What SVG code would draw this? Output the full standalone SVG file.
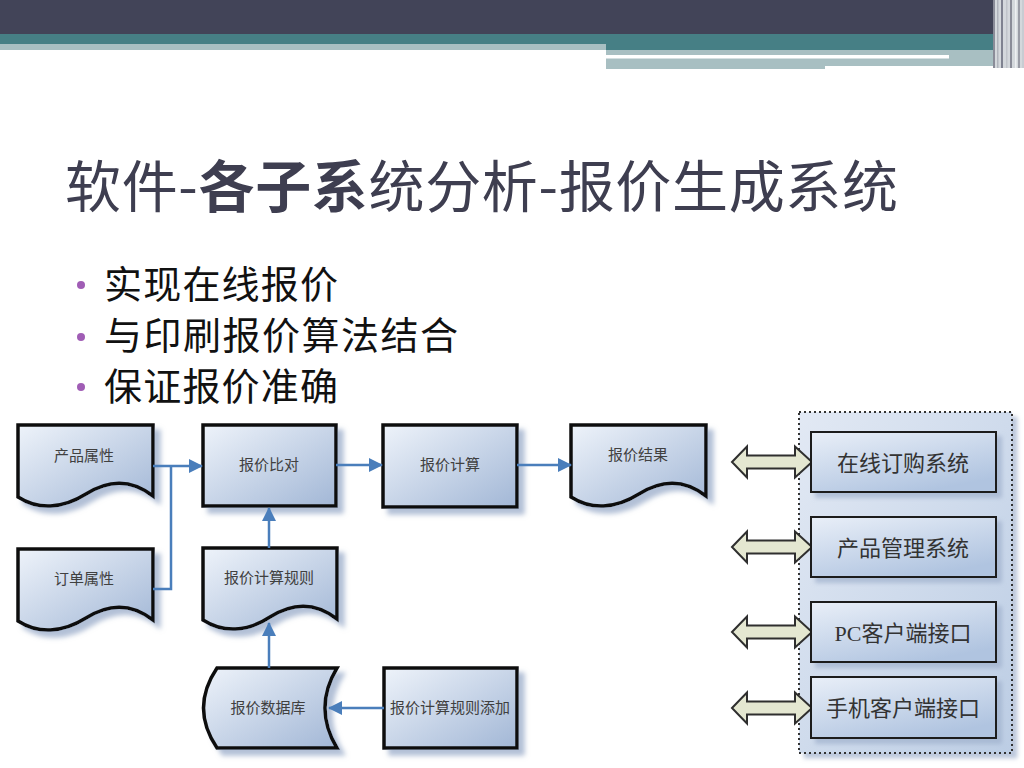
<svg xmlns="http://www.w3.org/2000/svg" width="1024" height="768" viewBox="0 0 1024 768">
<defs>
<style>
.title{font-family:"Noto Sans CJK SC",sans-serif;font-size:56px;fill:#3e3e50}
.bul{font-family:"Noto Sans CJK SC",sans-serif;font-size:38px;fill:#111}
.nt{font-family:"Noto Sans CJK SC",sans-serif;font-size:15px;fill:#404040;text-anchor:middle}
.rt{font-family:"Liberation Serif","Noto Sans CJK SC",serif;font-size:22px;fill:#333;text-anchor:middle}
.node{fill:url(#g1);stroke:#111;stroke-width:3.5;filter:url(#sh)}
.box{fill:url(#g2);stroke:#1a1a1a;stroke-width:2;filter:url(#sh2)}
.con{fill:none;stroke:#4a7ebb;stroke-width:2.5}
.dbl{fill:#e4e7d1;stroke:#2f2f2f;stroke-width:2}
</style>
<linearGradient id="g1" x1="0" y1="0" x2="1" y2="1">
<stop offset="0" stop-color="#eef3fa"/><stop offset="1" stop-color="#a2b7d6"/>
</linearGradient>
<linearGradient id="g2" x1="0" y1="0" x2="0.6" y2="1">
<stop offset="0" stop-color="#e9eff8"/><stop offset="1" stop-color="#b0c4e0"/>
</linearGradient>
<linearGradient id="g3" x1="0" y1="0" x2="1" y2="1">
<stop offset="0" stop-color="#e2e9f4"/><stop offset="1" stop-color="#bccde4"/>
</linearGradient>
<filter id="sh" x="-20%" y="-20%" width="150%" height="150%">
<feGaussianBlur in="SourceAlpha" stdDeviation="2.5"/>
<feOffset dx="6" dy="6" result="b"/>
<feFlood flood-color="#9fb0cc" flood-opacity="0.8"/>
<feComposite in2="b" operator="in"/>
<feMerge><feMergeNode/><feMergeNode in="SourceGraphic"/></feMerge>
</filter>
<filter id="sh2" x="-20%" y="-20%" width="150%" height="150%">
<feGaussianBlur in="SourceAlpha" stdDeviation="2"/>
<feOffset dx="5" dy="5" result="b"/>
<feFlood flood-color="#9fb0cc" flood-opacity="0.7"/>
<feComposite in2="b" operator="in"/>
<feMerge><feMergeNode/><feMergeNode in="SourceGraphic"/></feMerge>
</filter>
<marker id="ar" viewBox="0 0 14 16" markerWidth="14" markerHeight="16" refX="13" refY="8" orient="auto" markerUnits="userSpaceOnUse">
<path d="M0,1 L14,8 L0,15 Z" fill="#4a7ebb"/>
</marker>
</defs>
<rect width="1024" height="768" fill="#ffffff"/>
<g id="header">
<rect x="0" y="0" width="1024" height="34" fill="#424458"/>
<rect x="0" y="34" width="606" height="10" fill="#467f85"/>
<rect x="0" y="44" width="606" height="6" fill="#a8bfc2"/>
<rect x="606" y="34" width="387" height="16" fill="#467f85"/>
<rect x="606" y="50" width="387" height="16" fill="#a8bfc2"/>
<rect x="606" y="55" width="343" height="3.5" fill="#ffffff"/>
<rect x="606" y="66" width="219" height="3" fill="#a8bfc2"/>
<rect x="993" y="0" width="31" height="68" fill="#d4d8dc"/>
<rect x="993" y="0" width="2" height="68" fill="#8a8c98"/>
<rect x="997" y="0" width="1.5" height="68" fill="#b0b4bc"/>
<rect x="1001" y="0" width="2" height="68" fill="#7f8290"/>
<rect x="1006" y="0" width="1.5" height="68" fill="#c0c4ca"/>
<rect x="1010" y="0" width="2" height="68" fill="#8a8c98"/>
<rect x="1015" y="0" width="1.5" height="68" fill="#eef0f2"/>
<rect x="1018" y="0" width="2" height="68" fill="#9a9ca6"/>
<rect x="1022" y="0" width="2" height="68" fill="#c8ccd2"/>
</g>
<g id="title">
<text class="title" x="65" y="207" textLength="833" lengthAdjust="spacing">软件-<tspan font-weight="bold">各子系</tspan>统分析-报价生成系统</text>
</g>
<g id="bullets">
<circle cx="81" cy="285" r="4" fill="#a05db5"/>
<circle cx="81" cy="337" r="4" fill="#a05db5"/>
<circle cx="81" cy="387" r="4" fill="#a05db5"/>
<text class="bul" x="104" y="298" textLength="234" lengthAdjust="spacing">实现在线报价</text>
<text class="bul" x="104" y="349" textLength="354" lengthAdjust="spacing">与印刷报价算法结合</text>
<text class="bul" x="104" y="400" textLength="234" lengthAdjust="spacing">保证报价准确</text>
</g>
<g id="container">
<rect x="799" y="412" width="213" height="341" fill="url(#g3)" stroke="#333" stroke-width="2" stroke-dasharray="2,3" filter="url(#sh2)"/>
</g>
<g id="n_chanpinshuxing">
<path class="node" transform="translate(18,425)" d="M0,0 H135 V71 C112,53 90,55 68,69 C44,84 20,85 0,72 Z"/>
<text class="nt" x="84" y="461">产品属性</text>
</g>
<g id="n_dingdanshuxing">
<path class="node" transform="translate(18,549)" d="M0,0 H135 V71 C112,53 90,55 68,69 C44,84 20,85 0,72 Z"/>
<text class="nt" x="84" y="584">订单属性</text>
</g>
<g id="n_baojiabidui">
<rect class="node" x="203" y="425" width="133" height="81"/>
<text class="nt" x="269" y="470">报价比对</text>
</g>
<g id="n_baojiajisuan">
<rect class="node" x="383" y="425" width="134" height="82"/>
<text class="nt" x="450" y="470">报价计算</text>
</g>
<g id="n_baojiajieguo">
<path class="node" transform="translate(571,425)" d="M0,0 H135 V71 C112,53 90,55 68,69 C44,84 20,85 0,72 Z"/>
<text class="nt" x="638" y="460">报价结果</text>
</g>
<g id="n_guize">
<path class="node" transform="translate(203,548)" d="M0,0 H134 V71 C111,53 89,55 67,69 C44,84 20,85 0,72 Z"/>
<text class="nt" x="269" y="583">报价计算规则</text>
</g>
<g id="n_shujuku">
<path class="node" d="M217,668 H337 Q313,708 337,748 H217 Q190,708 217,668 Z"/>
<text class="nt" x="268" y="713">报价数据库</text>
</g>
<g id="n_guizetianjia">
<rect class="node" x="384" y="668" width="133" height="80"/>
<text class="nt" x="450" y="713">报价计算规则添加</text>
</g>
<g id="connectors">
<path class="con" d="M153,466 H202" marker-end="url(#ar)"/>
<path class="con" d="M153,589 H171 V466"/>
<path class="con" d="M269,548 V508" marker-end="url(#ar)"/>
<path class="con" d="M269,668 V623" marker-end="url(#ar)"/>
<path class="con" d="M384,708 H329" marker-end="url(#ar)"/>
<path class="con" d="M336,465 H382" marker-end="url(#ar)"/>
<path class="con" d="M517,465 H571" marker-end="url(#ar)"/>
<path class="dbl" transform="translate(0,462)" d="M732,0 L747,-15.5 V-6.5 H795 V-15.5 L812,0 L795,15.5 V6.5 H747 V15.5 Z"/>
<path class="dbl" transform="translate(0,547)" d="M732,0 L747,-15.5 V-6.5 H795 V-15.5 L812,0 L795,15.5 V6.5 H747 V15.5 Z"/>
<path class="dbl" transform="translate(0,632)" d="M732,0 L747,-15.5 V-6.5 H795 V-15.5 L812,0 L795,15.5 V6.5 H747 V15.5 Z"/>
<path class="dbl" transform="translate(0,708)" d="M732,0 L747,-15.5 V-6.5 H795 V-15.5 L812,0 L795,15.5 V6.5 H747 V15.5 Z"/>
</g>
<g id="b_zaixian">
<rect class="box" x="811" y="432" width="185" height="60"/>
<text class="rt" x="903" y="471">在线订购系统</text>
</g>
<g id="b_chanpin">
<rect class="box" x="811" y="517" width="185" height="60"/>
<text class="rt" x="903" y="556">产品管理系统</text>
</g>
<g id="b_pc">
<rect class="box" x="811" y="602" width="185" height="60"/>
<text class="rt" x="903" y="641">PC客户端接口</text>
</g>
<g id="b_shouji">
<rect class="box" x="811" y="677" width="185" height="61"/>
<text class="rt" x="903" y="716">手机客户端接口</text>
</g>
</svg>
